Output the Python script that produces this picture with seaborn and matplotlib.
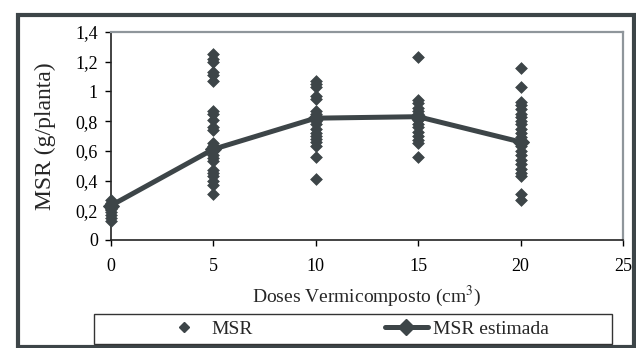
import numpy as np
import pandas as pd
import seaborn as sns
import matplotlib.pyplot as plt
from matplotlib.patches import Rectangle
from matplotlib.lines import Line2D
from matplotlib.ticker import FuncFormatter

msr_0 = [0.13, 0.15, 0.17, 0.19, 0.21, 0.22, 0.24, 0.25, 0.27]
msr_5 = [1.25, 1.22, 1.20, 1.13, 1.11, 1.07, 0.87, 0.85, 0.81, 0.76, 0.74,
         0.65, 0.63, 0.60, 0.57, 0.55, 0.53, 0.47, 0.45, 0.43, 0.40, 0.37, 0.31]
msr_10 = [1.07, 1.05, 1.03, 0.97, 0.95, 0.87, 0.85, 0.83, 0.80, 0.78, 0.75,
          0.72, 0.70, 0.68, 0.66, 0.63, 0.56, 0.41]
msr_15 = [1.23, 0.94, 0.92, 0.89, 0.87, 0.85, 0.83, 0.81, 0.78, 0.76, 0.73,
          0.70, 0.67, 0.65, 0.56]
msr_20 = [1.16, 1.03, 0.93, 0.91, 0.88, 0.85, 0.83, 0.80, 0.78, 0.75, 0.72,
          0.69, 0.66, 0.63, 0.60, 0.57, 0.54, 0.51, 0.48, 0.45, 0.43, 0.31, 0.27]

doses = [0, 5, 10, 15, 20]
msr_estimada = [0.23, 0.61, 0.82, 0.83, 0.66]

rows = []
for d, vals in zip(doses, [msr_0, msr_5, msr_10, msr_15, msr_20]):
    for v in vals:
        rows.append({"dose": d, "msr": v})
df = pd.DataFrame(rows)
df_est = pd.DataFrame({"dose": doses, "msr": msr_estimada})

sns.set_style("white")
plt.rcParams['font.family'] = ['Liberation Serif', 'DejaVu Serif']
plt.rcParams['mathtext.fontset'] = 'stix'

dark = '#3d4548'
gray = '#8f969b'

fig = plt.figure(figsize=(6.36, 3.48), dpi=100)
ax = fig.add_axes([110.5 / 636, 108 / 348, 512.5 / 636, 208 / 348])

sns.scatterplot(data=df, x="dose", y="msr", marker="D", s=36, color=dark,
                edgecolor=dark, linewidth=0.5, ax=ax, clip_on=False, zorder=3)
sns.lineplot(data=df_est, x="dose", y="msr", color=dark, linewidth=3.6,
             marker="D", markersize=8, markeredgecolor=dark, ax=ax,
             clip_on=False, zorder=4)

ax.set_xlim(0, 25)
ax.set_ylim(0, 1.4)
ax.set_xticks([0, 5, 10, 15, 20, 25])
ax.set_yticks(np.arange(0, 1.41, 0.2))
ax.yaxis.set_major_formatter(FuncFormatter(lambda v, p: f"{v:.1f}".rstrip('0').rstrip('.').replace('.', ',')))
ax.tick_params(axis='both', direction='out', length=4, width=1, colors='black',
               labelsize=13, left=True, bottom=True)
ax.tick_params(axis='x', pad=9)
ax.tick_params(axis='y', pad=5)

for side in ['left', 'bottom']:
    ax.spines[side].set_color('#222222')
    ax.spines[side].set_linewidth(1.2)
for side in ['top', 'right']:
    ax.spines[side].set_color(gray)
    ax.spines[side].set_linewidth(1.6)

ax.set_xlabel("Doses Vermicomposto (cm$^3$)", fontsize=14, labelpad=6)
ax.set_ylabel("MSR (g/planta)", fontsize=17, labelpad=14)

# outer frame
fig.patches.append(Rectangle((18 / 636, 1 / 348), 616 / 636, 332 / 348,
                             transform=fig.transFigure, fill=False,
                             edgecolor=dark, linewidth=3))

# legend box
fig.patches.append(Rectangle((94 / 636, 4 / 348), 518 / 636, 30 / 348,
                             transform=fig.transFigure, fill=False,
                             edgecolor='#333333', linewidth=1))

handles = [
    Line2D([], [], linestyle='none', marker='D', markersize=5.5, color=dark),
    Line2D([], [], linestyle='-', linewidth=3.6, marker='D', markersize=8, color=dark),
]
fig.legend(handles, ["MSR", "MSR estimada"], loc='center',
           bbox_to_anchor=(356 / 636, 19 / 348), ncol=2, frameon=False,
           fontsize=14, handlelength=2.2, handletextpad=0.3, columnspacing=6.8)

fig.savefig("out.png", dpi=100)
